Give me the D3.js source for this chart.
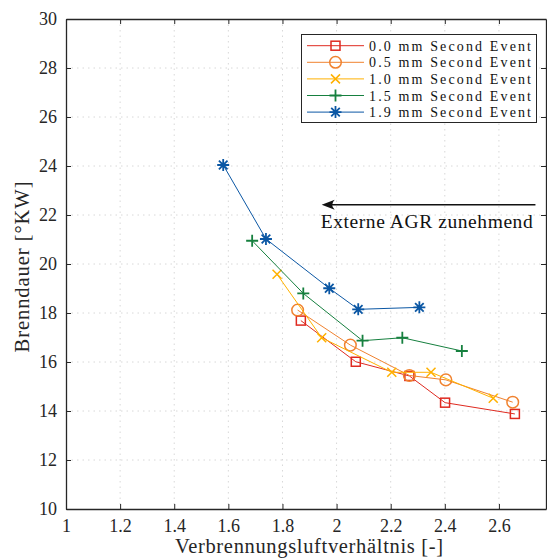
<!DOCTYPE html>
<html><head><meta charset="utf-8">
<script src="https://cdn.jsdelivr.net/npm/d3@7"></script>
<style>
body{margin:0;background:#fff;} svg{display:block;}
svg text{font-family:"Liberation Serif","DejaVu Serif","Times New Roman",Times,serif !important;}
</style>
</head><body>
<svg id="c" width="547" height="558"></svg>
<script>
const seriesNames = ["0.0 mm Second Event","0.5 mm Second Event","1.0 mm Second Event","1.5 mm Second Event","1.9 mm Second Event"];
const x00 = [1.868, 2.071, 2.269, 2.401, 2.659];
const y00 = [17.69, 16.01, 15.43, 14.34, 13.88];
const x05 = [1.856, 2.051, 2.269, 2.404, 2.651];
const y05 = [18.12, 16.69, 15.45, 15.27, 14.36];
const x10 = [1.780, 1.945, 2.204, 2.349, 2.579];
const y10 = [19.58, 16.99, 15.58, 15.58, 14.52];
const x15 = [1.688, 1.877, 2.096, 2.243, 2.463];
const y15 = [20.95, 18.80, 16.87, 16.99, 16.45];
const x19 = [1.581, 1.739, 1.973, 2.080, 2.306];
const y19 = [24.04, 21.02, 19.01, 18.15, 18.23];
const xTicks = [1, 1.2, 1.4, 1.6, 1.8, 2, 2.2, 2.4, 2.6];
const yTicks = [10, 12, 14, 16, 18, 20, 22, 24, 26, 28, 30];
const xLabel = "Verbrennungsluftverhältnis [-]";
const yLabel = "Brenndauer [°KW]";
const annotation = "Externe AGR zunehmend";

const colors = ["#df2a20", "#f0822f", "#ffb100", "#16803f", "#0b57a4"];
const markers = ["square", "circle", "cross", "plus", "star"];
const xs = [x00, x05, x10, x15, x19], ys = [y00, y05, y10, y15, y19];

const L = 66, R = 546, T = 19, B = 509;
const svg = d3.select("#c");
const x = d3.scaleLinear().domain([1, 2.774]).range([L, R]);
const y = d3.scaleLinear().domain([10, 30]).range([B, T]);

// grid
const g = svg.append("g");
g.selectAll(".gx").data(xTicks.slice(1)).join("line")
  .attr("x1", d => x(d)).attr("x2", d => x(d)).attr("y1", T).attr("y2", B)
  .attr("stroke", "#d8d8d8").attr("stroke-width", 1).attr("stroke-dasharray", "1.5,4");
g.selectAll(".gy").data(yTicks.slice(1, -1)).join("line")
  .attr("x1", L).attr("x2", R).attr("y1", d => y(d)).attr("y2", d => y(d))
  .attr("stroke", "#d8d8d8").attr("stroke-width", 1).attr("stroke-dasharray", "1.5,4");

// axes
const xAxis = d3.axisBottom(x).tickValues(xTicks).tickFormat(d3.format("")).tickSizeInner(-5).tickSizeOuter(0).tickPadding(10);
const yAxis = d3.axisLeft(y).tickValues(yTicks).tickFormat(d3.format("")).tickSizeInner(-5).tickSizeOuter(0).tickPadding(9);
const xTop = d3.axisTop(x).tickValues(xTicks).tickFormat("").tickSizeInner(-5).tickSizeOuter(0);
const yRight = d3.axisRight(y).tickValues(yTicks).tickFormat("").tickSizeInner(-5).tickSizeOuter(0);
function style(sel){
  sel.attr("font-family", null);
  sel.selectAll("path").attr("stroke","#262626").attr("stroke-width",1.3);
  sel.selectAll("line").attr("stroke","#262626").attr("stroke-width",1);
  sel.selectAll("text").attr("fill","#262626").style("font-size","18px");
}
svg.append("g").attr("transform",`translate(0,${B})`).call(xAxis).call(style);
svg.append("g").attr("transform",`translate(${L},0)`).call(yAxis).call(style);
svg.append("g").attr("transform",`translate(0,${T})`).call(xTop).call(style);
svg.append("g").attr("transform",`translate(${R},0)`).call(yRight).call(style);

// axis labels
svg.append("text").attr("x", 309).attr("y", 553).attr("text-anchor","middle")
  .style("font-size","20.5px").attr("fill","#262626").attr("textLength", 268).text(xLabel);
svg.append("text").attr("transform",`translate(29,267) rotate(-90)`).attr("text-anchor","middle")
  .style("font-size","20.5px").attr("fill","#262626").attr("textLength", 171).text(yLabel);

// marker drawing
function drawMarker(sel, type, color, cx, cy) {
  const gg = sel.append("g").attr("transform", `translate(${cx},${cy})`)
    .attr("fill","none").attr("stroke",color).attr("stroke-width",1.5);
  if (type === "square") gg.append("rect").attr("x",-4.5).attr("y",-4.5).attr("width",9).attr("height",9);
  else if (type === "circle") gg.append("circle").attr("r",5.8);
  else if (type === "cross") { gg.append("path").attr("d","M-4.5,-4.5L4.5,4.5M-4.5,4.5L4.5,-4.5"); }
  else if (type === "plus") { gg.append("path").attr("d","M-6,0L6,0M0,-6L0,6").attr("stroke-width",1.8); }
  else if (type === "star") { gg.append("path").attr("d","M-6,0L6,0M0,-6L0,6M-4.3,-4.3L4.3,4.3M-4.3,4.3L4.3,-4.3").attr("stroke-width",1.8); }
}

const line = d3.line().x(d => x(d[0])).y(d => y(d[1]));
xs.forEach((xv, i) => {
  const pts = xv.map((v, j) => [v, ys[i][j]]);
  svg.append("path").datum(pts).attr("d", line).attr("fill","none").attr("stroke",colors[i]).attr("stroke-width",1);
  pts.forEach(p => drawMarker(svg, markers[i], colors[i], x(p[0]), y(p[1])));
});

// annotation arrow
const ay = y(22.42);
const ax0 = x(1.945);
svg.append("line").attr("x1", x(2.735)).attr("x2", ax0 + 6).attr("y1", ay).attr("y2", ay)
  .attr("stroke","#111").attr("stroke-width",1.6);
svg.append("path").attr("d", `M${ax0},${ay} L${ax0+13},${ay-5} Q${ax0+8},${ay} ${ax0+13},${ay+5} Z`).attr("fill","#111");
svg.append("text").attr("x", ax0 - 1).attr("y", ay + 23)
  .style("font-size","19.5px").attr("fill","#111").attr("textLength", 212).text(annotation);

// legend
const lg = svg.append("g");
lg.append("rect").attr("x",301.5).attr("y",34.5).attr("width",235).attr("height",88)
  .attr("fill","#fff").attr("stroke","#262626").attr("stroke-width",1);
seriesNames.forEach((n, i) => {
  const ry = 45.7 + i * 16.6;
  lg.append("line").attr("x1",307).attr("x2",364).attr("y1",ry).attr("y2",ry).attr("stroke",colors[i]).attr("stroke-width",1);
  drawMarker(lg, markers[i], colors[i], 335.5, ry);
  lg.append("text").attr("x",369).attr("y",ry+5).style("font-size","14px")
    .attr("fill","#111").attr("textLength", 162).text(n);
});
</script>
</body></html>
